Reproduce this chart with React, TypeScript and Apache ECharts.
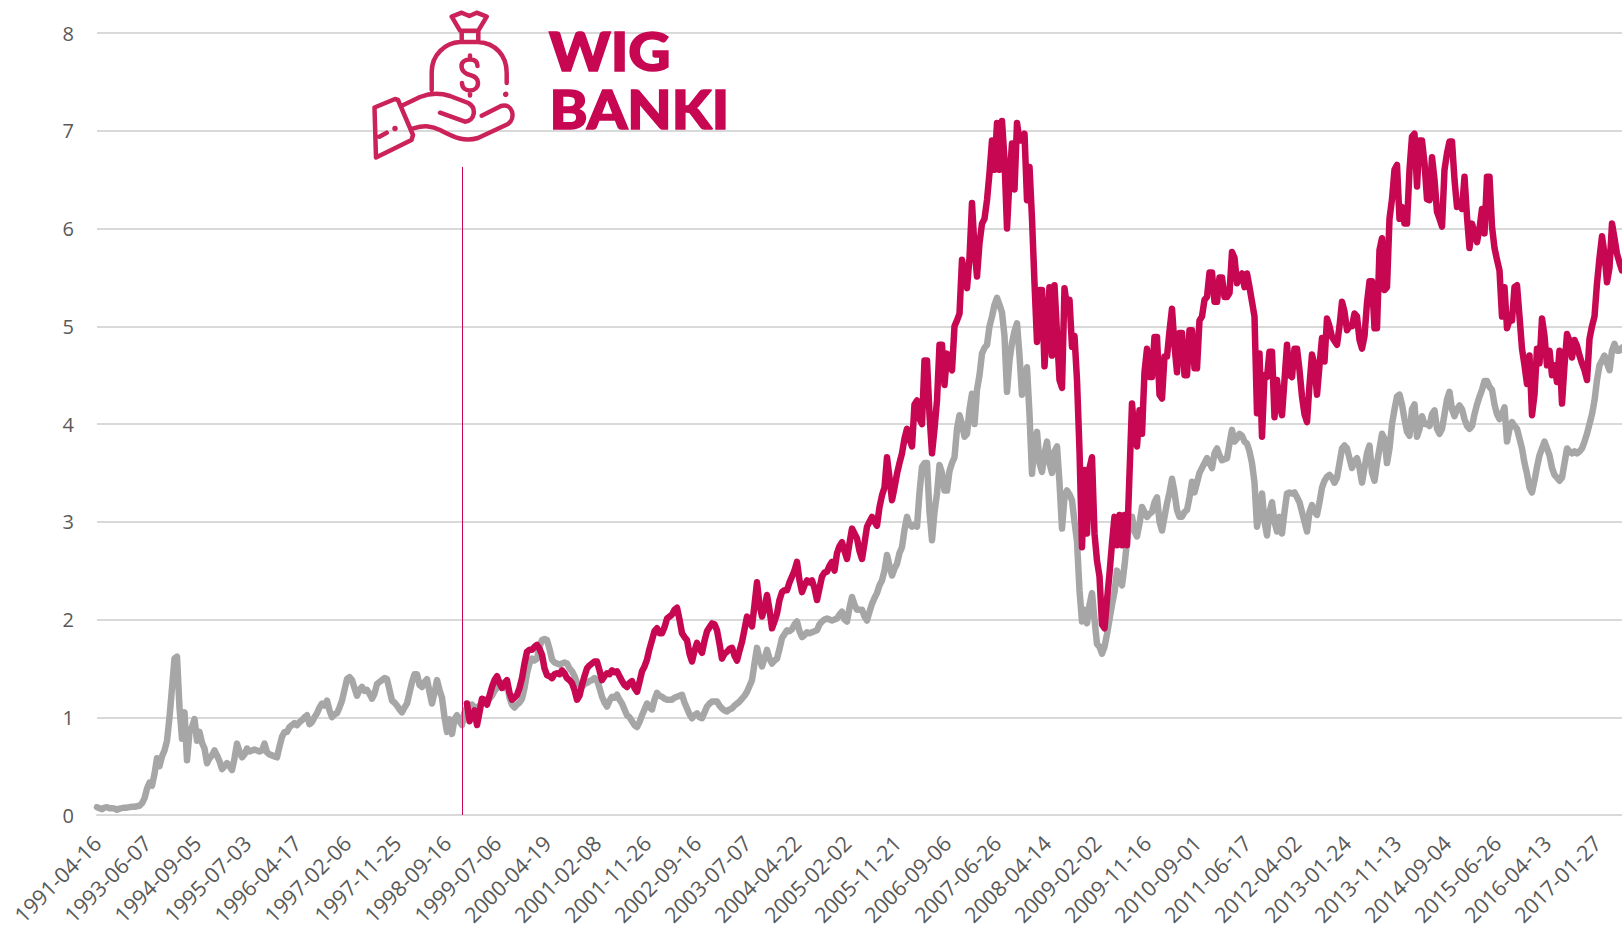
import React, { useEffect, useRef } from "react";
import * as echarts from "echarts";

const TICK_LABELS = ["1991-04-16","1993-06-07","1994-09-05","1995-07-03","1996-04-17","1997-02-06","1997-11-25","1998-09-16","1999-07-06","2000-04-19","2001-02-08","2001-11-26","2002-09-16","2003-07-07","2004-04-22","2005-02-02","2005-11-21","2006-09-06","2007-06-26","2008-04-14","2009-02-02","2009-11-16","2010-09-01","2011-06-17","2012-04-02","2013-01-24","2013-11-13","2014-09-04","2015-06-26","2016-04-13","2017-01-27"];
const POINTS_PER_TICK = 20;

const WIG = [
.08,.07,.06,.075,.08,.07,.07,.065,.055,.065,.07,.075,.075,.08,.085,.085,.09,.095,.12,.17,
.27,.33,.3,.42,.58,.5,.6,.66,.76,1.0,1.3,1.6,1.62,1.1,.78,1.05,.56,.85,.9,.98,
.76,.85,.74,.68,.53,.58,.61,.66,.61,.55,.47,.5,.53,.5,.46,.58,.73,.65,.59,.62,
.68,.65,.66,.67,.66,.65,.66,.73,.64,.62,.61,.6,.59,.7,.8,.85,.85,.9,.92,.94,
.92,.95,.97,1.0,1.02,.93,.95,1.0,1.04,1.1,1.14,1.12,1.17,1.07,1.0,1.03,1.04,1.1,1.17,1.28,
1.39,1.41,1.38,1.3,1.22,1.28,1.31,1.27,1.28,1.24,1.19,1.24,1.34,1.36,1.38,1.4,1.39,1.28,1.17,1.15,
1.12,1.08,1.05,1.1,1.14,1.25,1.36,1.44,1.44,1.33,1.31,1.36,1.39,1.26,1.14,1.25,1.38,1.28,1.2,1.0,
.85,.98,.83,.98,1.02,.96,.92,1.05,1.1,1.12,1.13,1.1,1.1,1.12,1.14,1.16,1.17,1.19,1.22,1.27,
1.3,1.33,1.35,1.3,1.35,1.2,1.13,1.1,1.13,1.15,1.19,1.3,1.45,1.55,1.6,1.58,1.6,1.72,1.79,1.8,
1.79,1.7,1.59,1.56,1.55,1.54,1.55,1.56,1.55,1.5,1.47,1.42,1.35,1.33,1.31,1.34,1.35,1.37,1.38,1.4,
1.38,1.3,1.21,1.15,1.11,1.17,1.21,1.2,1.23,1.18,1.14,1.08,1.02,1.0,.96,.92,.9,.95,1.02,1.08,
1.14,1.1,1.08,1.18,1.25,1.22,1.21,1.19,1.18,1.18,1.18,1.2,1.21,1.22,1.23,1.15,1.09,1.03,.99,1.02,
1.04,1.0,.99,1.05,1.11,1.14,1.16,1.16,1.16,1.12,1.09,1.07,1.06,1.08,1.09,1.12,1.14,1.16,1.19,1.22,
1.26,1.32,1.38,1.55,1.71,1.6,1.52,1.6,1.69,1.6,1.55,1.58,1.6,1.7,1.81,1.85,1.89,1.88,1.9,1.95,
1.98,1.88,1.82,1.84,1.87,1.86,1.87,1.88,1.89,1.95,1.98,2.0,2.01,2.0,1.99,2.0,2.01,2.05,2.08,2.0,
1.98,2.12,2.23,2.15,2.1,2.1,2.1,2.03,1.99,2.08,2.16,2.22,2.27,2.35,2.4,2.5,2.66,2.55,2.45,2.52,
2.57,2.68,2.74,2.92,3.05,2.97,2.95,2.97,2.95,3.3,3.56,3.6,3.6,3.1,2.81,3.1,3.29,3.58,3.5,3.32,
3.32,3.52,3.6,3.66,3.95,4.09,4.0,3.87,3.9,4.15,4.31,4.0,4.35,4.5,4.72,4.78,4.81,5.0,5.1,5.22,
5.29,5.22,5.14,4.9,4.33,4.65,4.83,4.95,5.03,4.7,4.3,4.45,4.58,4.1,3.49,3.8,3.92,3.6,3.51,3.7,
3.82,3.6,3.5,3.72,3.77,3.4,2.93,3.25,3.32,3.28,3.22,3.0,2.8,2.3,1.98,2.1,1.96,2.15,2.27,2.0,
1.75,1.72,1.65,1.72,1.85,2.0,2.15,2.28,2.5,2.4,2.35,2.55,2.8,3.05,3.05,2.9,2.85,2.98,3.15,3.1,
3.05,3.08,3.1,3.2,3.25,3.0,2.91,3.05,3.19,3.3,3.44,3.3,3.12,3.05,3.05,3.1,3.12,3.25,3.41,3.3,
3.4,3.5,3.55,3.6,3.65,3.6,3.55,3.7,3.75,3.68,3.63,3.64,3.65,3.8,3.94,3.82,3.85,3.9,3.88,3.82,
3.8,3.72,3.6,3.4,2.95,3.1,3.29,3.0,2.86,3.1,3.2,3.0,2.9,3.05,2.88,3.1,3.29,3.3,3.29,3.3,
3.25,3.2,3.1,3.0,2.9,3.1,3.17,3.1,3.07,3.2,3.35,3.42,3.46,3.48,3.45,3.4,3.45,3.6,3.75,3.78,
3.75,3.65,3.55,3.62,3.65,3.55,3.4,3.55,3.7,3.78,3.5,3.42,3.6,3.75,3.9,3.85,3.6,3.75,4.0,4.15,
4.28,4.3,4.2,4.05,3.92,3.88,4.15,4.2,3.87,3.95,4.08,4.0,4.0,3.98,4.1,4.14,3.95,3.9,3.95,4.1,
4.25,4.33,4.15,4.08,4.15,4.19,4.15,4.05,3.98,3.95,3.98,4.1,4.2,4.28,4.35,4.44,4.44,4.38,4.35,4.2,
4.1,4.05,4.1,4.17,3.82,3.95,4.02,3.98,3.95,3.85,3.75,3.6,3.49,3.35,3.3,3.42,3.56,3.68,3.75,3.82,
3.75,3.68,3.55,3.48,3.45,3.42,3.45,3.6,3.75,3.72,3.7,3.72,3.7,3.72,3.75,3.82,3.9,4.0,4.1,4.24,
4.45,4.6,4.65,4.7,4.62,4.55,4.75,4.82,4.75,4.75,4.78,
];

const WIG_BANKI_START = 148;
const WIG_BANKI = [
1.14,.96,1.02,1.07,.92,1.05,1.19,1.18,1.13,1.22,1.31,1.38,
1.42,1.35,1.3,1.35,1.38,1.25,1.18,1.2,1.23,1.3,1.4,1.55,1.67,1.69,1.69,1.72,1.74,1.7,1.64,1.5,
1.43,1.42,1.4,1.44,1.45,1.44,1.48,1.45,1.4,1.38,1.35,1.28,1.18,1.22,1.33,1.42,1.5,1.53,1.55,1.57,
1.57,1.48,1.38,1.42,1.45,1.44,1.48,1.46,1.47,1.42,1.37,1.33,1.31,1.35,1.37,1.3,1.26,1.36,1.47,1.52,
1.59,1.7,1.79,1.88,1.91,1.86,1.86,1.92,2.01,2.03,2.05,2.1,2.12,2.0,1.86,1.82,1.79,1.65,1.57,1.68,
1.76,1.7,1.66,1.78,1.88,1.92,1.96,1.95,1.89,1.75,1.6,1.65,1.67,1.7,1.71,1.63,1.58,1.68,1.77,1.9,
2.03,1.98,1.93,2.15,2.38,2.15,2.03,2.12,2.25,2.1,1.91,1.98,2.06,2.2,2.28,2.3,2.3,2.38,2.44,2.5,
2.59,2.4,2.28,2.35,2.4,2.38,2.4,2.32,2.2,2.32,2.44,2.48,2.49,2.55,2.59,2.5,2.68,2.75,2.79,2.7,
2.62,2.78,2.93,2.88,2.83,2.7,2.62,2.78,2.95,3.0,3.05,3.0,2.96,3.15,3.27,3.35,3.66,3.45,3.22,3.35,
3.49,3.6,3.7,3.85,3.95,3.85,3.77,4.2,4.24,4.05,4.0,4.65,4.65,4.1,3.7,3.95,4.24,4.81,4.81,4.4,
4.72,4.6,4.55,5.0,5.06,5.13,5.68,5.5,5.39,5.7,6.26,5.8,5.51,5.85,6.05,6.1,6.29,6.57,6.9,6.6,
7.08,6.6,7.1,6.7,6.0,6.5,6.87,6.4,7.08,6.9,6.9,6.97,6.29,6.63,6.1,5.44,4.84,5.37,5.37,4.59,
5.0,5.4,4.7,5.42,4.93,4.45,4.37,5.39,5.2,5.27,4.79,4.9,4.45,3.73,2.74,3.53,2.88,3.55,3.66,2.88,
2.6,2.44,1.95,1.91,2.2,2.47,2.78,3.05,2.76,3.07,2.76,3.07,2.76,3.49,4.21,3.9,3.77,4.14,3.9,4.53,
4.77,4.48,4.48,4.89,4.89,4.3,4.26,4.69,4.69,4.95,5.18,4.8,4.53,4.93,4.93,4.5,4.5,4.96,4.96,4.57,
4.57,5.06,5.1,5.27,5.3,5.55,5.55,5.25,5.25,5.5,5.5,5.3,5.3,5.34,5.76,5.7,5.44,5.5,5.54,5.4,
5.54,5.4,5.25,5.1,4.11,4.72,3.87,4.5,4.48,4.74,4.74,4.07,4.45,4.2,4.09,4.45,4.81,4.5,4.48,4.77,
4.77,4.55,4.28,4.1,4.02,4.4,4.71,4.6,4.3,4.6,4.88,4.64,5.08,5.0,4.89,4.85,4.81,5.0,5.25,5.15,
4.96,5.0,5.0,5.13,5.1,4.86,4.77,4.9,5.24,5.46,5.46,4.98,4.98,5.78,5.9,5.37,5.4,6.1,6.3,6.6,
6.65,6.1,6.22,6.05,6.05,6.6,6.94,6.97,6.43,6.9,6.9,6.67,6.3,6.29,6.73,6.5,6.17,6.1,6.02,6.6,
6.77,6.89,6.89,6.5,6.22,6.25,6.2,6.53,6.12,5.8,6.05,5.95,5.86,6.0,6.2,5.95,6.53,6.53,6.02,5.8,
5.68,5.57,5.1,5.4,4.98,5.06,5.06,5.4,5.42,5.1,4.77,4.6,4.41,4.7,4.09,4.3,4.77,4.62,5.08,4.9,
4.6,4.75,4.5,4.6,4.43,4.75,4.21,4.6,4.92,4.85,4.68,4.86,4.8,4.7,4.62,4.55,4.45,4.87,5.0,5.1,
5.44,5.7,5.92,5.74,5.45,5.6,6.05,5.9,5.74,5.65,5.57,
];

const MARKER_INDEX = 146;
const MARKER_TOP = 6.63;

const RED = "#C70752";
const ICON_RED = "#CB2259";
const GREY = "#A6A6A6";
const FONT = "'Open Sans', sans-serif";

const ICON_D = [
  "M451.7 16.7 L461.7 12.7 L469.3 16 L476.7 12.7 L486.7 16.7 L478.3 30.7 L460 30.7 Z",
  "M461.7 30.7 L461.7 41.7 M478.3 30.7 L478.3 41.7",
  "M431.7 90 L431.7 72 C431.7 55 445 42.7 460 42 L478 42 C495 43 506.7 55 506.7 73 L506.7 83",
  "M477.5 66 C477.5 61 474 59.5 470 59.5 C465 59.5 461.5 62 461.5 66 C461.5 71 466 74 470 75 C474.5 76 478 78 478 83 C478 87.5 474.5 90.5 470 90.5 C465.5 90.5 462 88 462 83 M470 55.5 L470 59.5 M470 90.5 L470 95.5",
  "M374.5 107.5 L395 99 L398 100 L413 135 L411.5 140 L376 157.5 Z",
  "M379.3 136.7 L386.7 132.7",
  "M403.3 105 L420 97 C430 93 440 92.7 450 96 L468.3 103 C477 108 475 121 465 121.7 L440 112.7",
  "M413.3 128.3 C425 125 432 126 440 130 C455 138 465 142 478 138 L508 124 C516 118 513 103 501 106 L481.7 115.7",
].join(" ");

echarts.graphic.registerShape("moneyHand", echarts.graphic.extendPath(ICON_D, {}));

export default function App() {
  const ref = useRef<HTMLDivElement>(null);
  useEffect(() => {
    document.body.style.margin = "0";
    document.body.style.overflow = "hidden";
    const chart = echarts.init(ref.current!, null, { renderer: "svg" });
    const categories = WIG.map((_, i) => (i % POINTS_PER_TICK === 0 ? TICK_LABELS[i / POINTS_PER_TICK] : ""));
    const bankiData = WIG.map((_, i) => (i < WIG_BANKI_START ? null : WIG_BANKI[i - WIG_BANKI_START]));
    const lineBase = { type: "line", showSymbol: false, symbol: "none", connectNulls: false, smooth: false };
    chart.setOption({
      animation: false,
      backgroundColor: "#fff",
      grid: { left: 97, right: 0, top: 33, bottom: 111, containLabel: false, outerBoundsMode: "none" },
      xAxis: {
        type: "category",
        boundaryGap: false,
        data: categories,
        axisTick: { show: false },
        axisLine: { show: true, lineStyle: { color: "#D9D9D9", width: 2 } },
        axisLabel: { interval: POINTS_PER_TICK - 1, rotate: 45, margin: 24, color: "#595959", fontFamily: FONT, fontSize: 21.5, hideOverlap: false },
        splitLine: { show: false },
      },
      yAxis: {
        type: "value",
        min: 0,
        max: 8,
        interval: 1,
        axisLine: { show: false },
        axisTick: { show: false },
        axisLabel: { margin: 23, color: "#595959", fontFamily: FONT, fontSize: 20 },
        splitLine: { lineStyle: { color: "#D9D9D9", width: 2 } },
      },
      series: [
        { ...lineBase, name: "WIG", data: WIG, z: 2, lineStyle: { color: GREY, width: 6.5, cap: "round", join: "round" } },
        {
          ...lineBase,
          name: "WIG Banki",
          data: bankiData,
          z: 3,
          lineStyle: { color: RED, width: 6.5, cap: "round", join: "round" },
          markLine: {
            silent: true,
            symbol: "none",
            animation: false,
            label: { show: false },
            lineStyle: { color: RED, width: 1, type: "solid" },
            data: [[{ xAxis: MARKER_INDEX, yAxis: 0 }, { xAxis: MARKER_INDEX, yAxis: MARKER_TOP }]],
          },
        },
      ],
      graphic: [
        { type: "moneyHand", z: 10, silent: true, style: { fill: "none", stroke: ICON_RED, lineWidth: 4.5, lineCap: "round", lineJoin: "round" } },
        { type: "circle", z: 10, silent: true, shape: { cx: 505.7, cy: 94.3, r: 2.8 }, style: { fill: ICON_RED } },
        { type: "circle", z: 10, silent: true, shape: { cx: 395, cy: 128.5, r: 2.8 }, style: { fill: ICON_RED } },
        { type: "text", z: 10, silent: true, x: 549, y: 24, scaleX: 1.1, style: { x: 0, y: 0, text: "WIG", font: "900 53px Lato, sans-serif", fill: RED, stroke: RED, lineWidth: 1.5 } },
        { type: "text", z: 10, silent: true, x: 549.5, y: 82, scaleX: 1.085, style: { x: 0, y: 0, text: "BANKI", font: "900 53px Lato, sans-serif", fill: RED, stroke: RED, lineWidth: 1.5 } },
      ],
    });
    return () => chart.dispose();
  }, []);
  return <div ref={ref} style={{ position: "absolute", left: 0, top: 0, width: 1622, height: 926 }} />;
}
